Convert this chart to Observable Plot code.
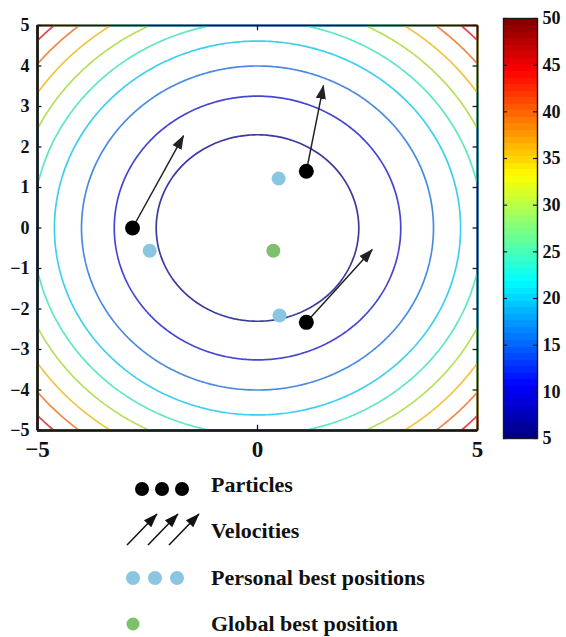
<!DOCTYPE html>
<html>
<head>
<meta charset="utf-8">
<script src="https://cdn.jsdelivr.net/npm/d3@7"></script>
<script src="https://cdn.jsdelivr.net/npm/@observablehq/plot@0.6"></script>
<style>
  html, body { margin: 0; padding: 0; background: #fff; }
  #page { position: relative; width: 566px; height: 637px; overflow: hidden; background: #fff;
          font-family: "Liberation Serif", "Times New Roman", serif; font-weight: bold; }
  #main, #cbar, #legend { position: absolute; top: 0; }
  #main { left: 0; }
  #cbar { left: 490px; }
  #legend { left: 0; top: 460px; width: 566px; height: 177px; }
  .lg-text { position: absolute; left: 211px; font-size: 22px; line-height: 22px; color: #111; }
</style>
</head>
<body>
<div id="page">
  <div id="main"></div>
  <div id="cbar"></div>
  <div id="legend"></div>
</div>
<script>
// ---- data ----
const xTicks = [-5, 0, 5];
const yTicks = [-5, -4, -3, -2, -1, 0, 1, 2, 3, 4, 5];
const colorbarTicks = [5, 10, 15, 20, 25, 30, 35, 40, 45, 50];
const contourLevels = [5.3, 10.6, 16.0, 21.3, 26.1, 31.0, 36.1, 41.4, 46.4];
const contourColors = ["#3b3b9e", "#4646d6", "#4a8ae2", "#3ccfef", "#5ee6c6", "#b4e05c", "#f2c442", "#f0884a", "#e0464e"];

const particleX = [-2.84, 1.11, 1.11];
const particleY = [0.0, 1.40, -2.33];
const velocityTipX = [-1.68, 1.50, 2.61];
const velocityTipY = [2.28, 3.52, -0.53];
const personalBestX = [0.48, -2.45, 0.50];
const personalBestY = [1.22, -0.56, -2.16];
const globalBestX = [0.36];
const globalBestY = [-0.56];

const legendLabels = ["Particles", "Velocities", "Personal best positions", "Global best position"];

// objective function whose level sets are drawn (sphere function)
const objective = (x, y) => x * x + y * y;

// MATLAB "jet" colour map
const jet = t => {
  const c = v => Math.round(255 * Math.max(0, Math.min(1, v)));
  return `rgb(${c(1.5 - Math.abs(4 * t - 3))},${c(1.5 - Math.abs(4 * t - 2))},${c(1.5 - Math.abs(4 * t - 1))})`;
};

const particles = particleX.map((x, i) => ({x, y: particleY[i], tx: velocityTipX[i], ty: velocityTipY[i]}));
const pbest = personalBestX.map((x, i) => ({x, y: personalBestY[i]}));
const gbest = globalBestX.map((x, i) => ({x, y: globalBestY[i]}));

const ink = "#1a1a1a";
const fmt = d => d < 0 ? "\u2212" + Math.abs(d) : String(d);

const main = Plot.plot({
  width: 490, height: 465,
  marginLeft: 37, marginRight: 13, marginTop: 25, marginBottom: 35,
  x: {domain: [-5, 5], label: null},
  y: {domain: [-5, 5], label: null},
  color: {type: "ordinal", domain: contourLevels, range: contourColors},
  style: {fontFamily: "'Liberation Serif', 'Times New Roman', serif", fontWeight: "bold", fontSize: "18px", background: "#fff", color: "#111"},
  marks: [
    Plot.contour({value: objective, x1: -5, y1: -5, x2: 5, y2: 5, thresholds: contourLevels,
                  stroke: "value", fill: "none", strokeWidth: 1.7}),
    Plot.link(particles, {x1: "x", y1: "y", x2: "tx", y2: "ty", stroke: "#222", strokeWidth: 1.5, markerEnd: "arrow"}),
    Plot.dot(pbest, {x: "x", y: "y", r: 7, fill: "#8ac6e2"}),
    Plot.dot(gbest, {x: "x", y: "y", r: 7, fill: "#7fc06c"}),
    Plot.dot(particles, {x: "x", y: "y", r: 7.5, fill: "#000"}),
    Plot.frame({stroke: ink, strokeWidth: 1.6}),
    Plot.ruleX([-5], {stroke: ink, strokeWidth: 2.6}),
    Plot.ruleY([-5], {stroke: ink, strokeWidth: 2.6}),
    // inward tick marks
    Plot.ruleX(xTicks, {y1: -5, y2: -4.87, stroke: ink, strokeWidth: 1.3}),
    Plot.ruleX(xTicks, {y1: 5, y2: 4.87, stroke: ink, strokeWidth: 1.3}),
    Plot.ruleY(yTicks, {x1: -5, x2: -4.9, stroke: ink, strokeWidth: 1.3}),
    Plot.ruleY(yTicks, {x1: 5, x2: 4.9, stroke: ink, strokeWidth: 1.3}),
    Plot.axisX({ticks: xTicks, tickSize: 0, tickPadding: 10, fontSize: 23, tickFormat: fmt}),
    Plot.axisY({ticks: yTicks, tickSize: 0, tickPadding: 8, fontSize: 18, tickFormat: fmt})
  ]
});
// filled triangular arrow heads
main.querySelectorAll("marker").forEach(m => {
  const col = m.getAttribute("stroke") || "#222";
  m.setAttribute("markerWidth", 9.5);
  m.setAttribute("markerHeight", 9.5);
  m.setAttribute("refX", 4.5);
  m.setAttribute("fill", col);
  m.setAttribute("stroke", "none");
  const p = m.querySelector("path");
  if (p) p.setAttribute("d", "M-5,-3.6L5,0L-5,3.6Z");
});
document.getElementById("main").appendChild(main);

const cbar = Plot.plot({
  width: 76, height: 450,
  marginLeft: 13, marginRight: 29, marginTop: 18, marginBottom: 12,
  x: {domain: [0, 1], axis: null},
  y: {domain: [5, 50], label: null},
  color: {type: "linear", domain: [5, 50], interpolate: jet},
  style: {fontFamily: "'Liberation Serif', 'Times New Roman', serif", fontWeight: "bold", fontSize: "18px", background: "transparent", color: "#111"},
  marks: [
    Plot.raster({fill: (x, y) => y, x1: 0, y1: 5, x2: 1, y2: 50, width: 1, height: 64, imageRendering: "pixelated"}),
    Plot.frame({stroke: ink, strokeWidth: 1.4}),
    Plot.ruleY(colorbarTicks, {x1: 0, x2: 0.12, stroke: ink, strokeWidth: 1.2}),
    Plot.ruleY(colorbarTicks, {x1: 1, x2: 0.88, stroke: ink, strokeWidth: 1.2}),
    Plot.axisY({anchor: "right", ticks: colorbarTicks, tickSize: 0, tickPadding: 5, fontSize: 18})
  ]
});
document.getElementById("cbar").appendChild(cbar);

// ---- legend ----
const legend = document.getElementById("legend");
const svgNS = "http://www.w3.org/2000/svg";
const lsvg = document.createElementNS(svgNS, "svg");
lsvg.setAttribute("width", 566); lsvg.setAttribute("height", 177);
lsvg.style.position = "absolute"; lsvg.style.left = "0"; lsvg.style.top = "0";
lsvg.innerHTML = `
  <defs><marker id="lgArrow" viewBox="-5 -5 10 10" markerWidth="9.5" markerHeight="9.5" refX="4.5" orient="auto" markerUnits="strokeWidth">
    <path d="M-5,-3.6L5,0L-5,3.6Z" fill="#111"/></marker></defs>
  ${[142, 162, 182].map(cx => `<circle cx="${cx}" cy="29" r="7" fill="#000"/>`).join("")}
  ${[0, 21, 42].map(dx => `<line x1="${127 + dx}" y1="85" x2="${157 + dx}" y2="54" stroke="#111" stroke-width="1.5" marker-end="url(#lgArrow)"/>`).join("")}
  ${[133, 155, 177].map(cx => `<circle cx="${cx}" cy="118" r="7" fill="#8ac6e2"/>`).join("")}
  <circle cx="133" cy="164" r="6.5" fill="#7fc06c"/>`;
legend.appendChild(lsvg);
const rowTop = [14, 60, 107, 153];
legendLabels.forEach((t, i) => {
  const d = document.createElement("div");
  d.className = "lg-text";
  d.style.top = rowTop[i] + "px";
  d.textContent = t;
  legend.appendChild(d);
});
</script>
</body>
</html>
